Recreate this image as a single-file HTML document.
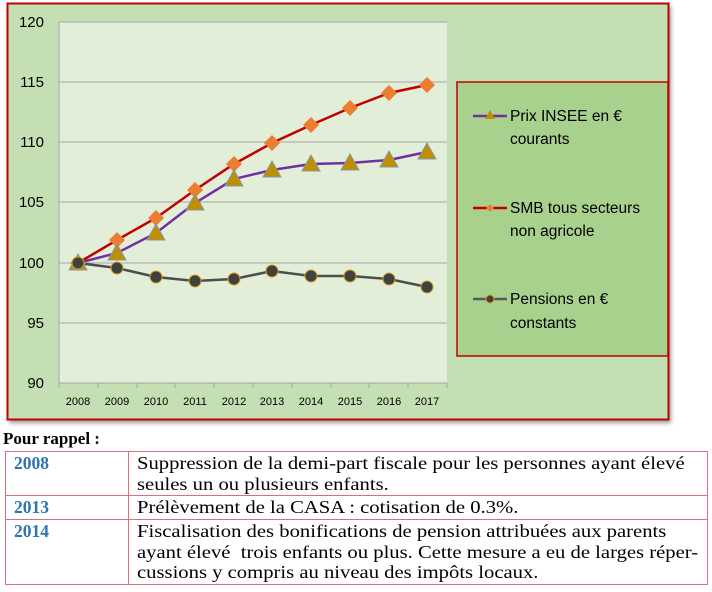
<!DOCTYPE html>
<html><head><meta charset="utf-8"><style>
body{margin:0;width:712px;height:592px;background:#fff;position:relative;overflow:hidden;font-family:"Liberation Serif",serif}
.t{position:absolute;left:5px;top:451px;width:703px;border-collapse:collapse}
.t td{border:1.5px solid #d9707a;font-size:17.5px;line-height:20.5px;vertical-align:top;padding:1px 8px;white-space:nowrap;overflow:hidden}
.t td span{display:inline-block;transform:scaleX(1.18);transform-origin:0 0}
.y{color:#2e74b5;font-weight:bold;width:106px;font-size:17.5px}
</style></head><body>
<svg width="712" height="440" style="position:absolute;left:0;top:0" font-family="Liberation Sans, sans-serif">
<defs><filter id="s"><feGaussianBlur stdDeviation="2"/></filter></defs>
<rect x="9" y="6" width="662" height="417" fill="#999" filter="url(#s)"/>
<rect x="7.5" y="3.5" width="661" height="416" fill="#c5dfb4" stroke="#c00000" stroke-width="2"/>
<rect x="59" y="22" width="388" height="361" fill="#e2eed7"/>
<g stroke="#a6a6a6" stroke-width="1">
<line x1="59" x2="447" y1="22" y2="22"/><line x1="59" x2="447" y1="82" y2="82"/><line x1="59" x2="447" y1="142" y2="142"/><line x1="59" x2="447" y1="202" y2="202"/><line x1="59" x2="447" y1="263" y2="263"/><line x1="59" x2="447" y1="323" y2="323"/><line x1="59" x2="447" y1="383" y2="383"/>
<line x1="59" x2="59" y1="22" y2="383"/>
<path d="M59 383v5M98 383v5M137 383v5M175 383v5M214 383v5M253 383v5M292 383v5M331 383v5M369 383v5M408 383v5M447 383v5"/>
</g>
<g font-size="15" text-anchor="end" fill="#000">
<text x="44" y="27">120</text><text x="44" y="87">115</text><text x="44" y="147">110</text><text x="44" y="207">105</text><text x="44" y="268">100</text><text x="44" y="328">95</text><text x="44" y="388">90</text></g>
<g font-size="11" text-anchor="middle" fill="#000">
<text x="78" y="405">2008</text><text x="117" y="405">2009</text><text x="156" y="405">2010</text><text x="195" y="405">2011</text><text x="234" y="405">2012</text><text x="272" y="405">2013</text><text x="311" y="405">2014</text><text x="350" y="405">2015</text><text x="389" y="405">2016</text><text x="427" y="405">2017</text></g>
<polyline fill="none" stroke="#c00000" stroke-width="2.5" points="78,263 117,240 156,218 195,190 234,164 272,143 311,125 350,108 389,93 427,85"/>
<polyline fill="none" stroke="#7030a0" stroke-width="2.5" points="78,263 117,253 156,233 195,203 234,179 272,170 311,164 350,163 389,160 427,152"/>
<polyline fill="none" stroke="#4d4d4d" stroke-width="2.5" points="78,263 117,268 156,277 195,281 234,279 272,271 311,276 350,276 389,279 427,287"/>
<g fill="#ed7d31"><path d="M78 255l8 8-8 8-8-8z"/><path d="M117 232l8 8-8 8-8-8z"/><path d="M156 210l8 8-8 8-8-8z"/><path d="M195 182l8 8-8 8-8-8z"/><path d="M234 156l8 8-8 8-8-8z"/><path d="M272 135l8 8-8 8-8-8z"/><path d="M311 117l8 8-8 8-8-8z"/><path d="M350 100l8 8-8 8-8-8z"/><path d="M389 85l8 8-8 8-8-8z"/><path d="M427 77l8 8-8 8-8-8z"/></g>
<g fill="#bf8f00" stroke="#8497b0" stroke-width="1"><path d="M78 254l9 16h-18z"/><path d="M117 244l9 16h-18z"/><path d="M156 224l9 16h-18z"/><path d="M195 194l9 16h-18z"/><path d="M234 170l9 16h-18z"/><path d="M272 161l9 16h-18z"/><path d="M311 155l9 16h-18z"/><path d="M350 154l9 16h-18z"/><path d="M389 151l9 16h-18z"/><path d="M427 143l9 16h-18z"/></g>
<g fill="#404040" stroke="#d4a017" stroke-width="1"><circle cx="78" cy="263" r="6"/><circle cx="117" cy="268" r="6"/><circle cx="156" cy="277" r="6"/><circle cx="195" cy="281" r="6"/><circle cx="234" cy="279" r="6"/><circle cx="272" cy="271" r="6"/><circle cx="311" cy="276" r="6"/><circle cx="350" cy="276" r="6"/><circle cx="389" cy="279" r="6"/><circle cx="427" cy="287" r="6"/></g>
<rect x="457" y="82" width="211" height="274" fill="#a9d18e" stroke="#c00000" stroke-width="1.5"/>
<line x1="473" x2="507" y1="116" y2="116" stroke="#7030a0" stroke-width="2.5"/><path d="M490 110l5 9h-10z" fill="#bf8f00"/>
<line x1="473" x2="507" y1="208" y2="208" stroke="#c00000" stroke-width="2.5"/><path d="M490 204l4 4-4 4-4-4z" fill="#ed7d31"/>
<line x1="473" x2="507" y1="299" y2="299" stroke="#595959" stroke-width="2.5"/><circle cx="490" cy="299" r="4" fill="#404040" stroke="#d4a017"/>
<g font-size="15.5" fill="#000"><text x="510" y="121">Prix INSEE en €</text><text x="510" y="144">courants</text><text x="510" y="213">SMB tous secteurs</text><text x="510" y="236">non agricole</text><text x="510" y="304">Pensions en €</text><text x="510" y="328">constants</text></g>
</svg>
<div style="position:absolute;left:3px;top:429px;font-weight:bold;font-size:17px">Pour rappel :</div>
<table class="t">
<tr style="height:43px"><td class="y">2008</td><td><span>Suppression de la demi-part fiscale pour les personnes ayant élevé<br>seules un ou plusieurs enfants.</span></td></tr>
<tr style="height:24px"><td class="y">2013</td><td><span>Prélèvement de la CASA : cotisation de 0.3%.</span></td></tr>
<tr style="height:64px"><td class="y">2014</td><td><span>Fiscalisation des bonifications de pension attribuées aux parents<br>ayant élevé&nbsp; trois enfants ou plus. Cette mesure a eu de larges réper-<br>cussions y compris au niveau des impôts locaux.</span></td></tr>
</table>
</body></html>
